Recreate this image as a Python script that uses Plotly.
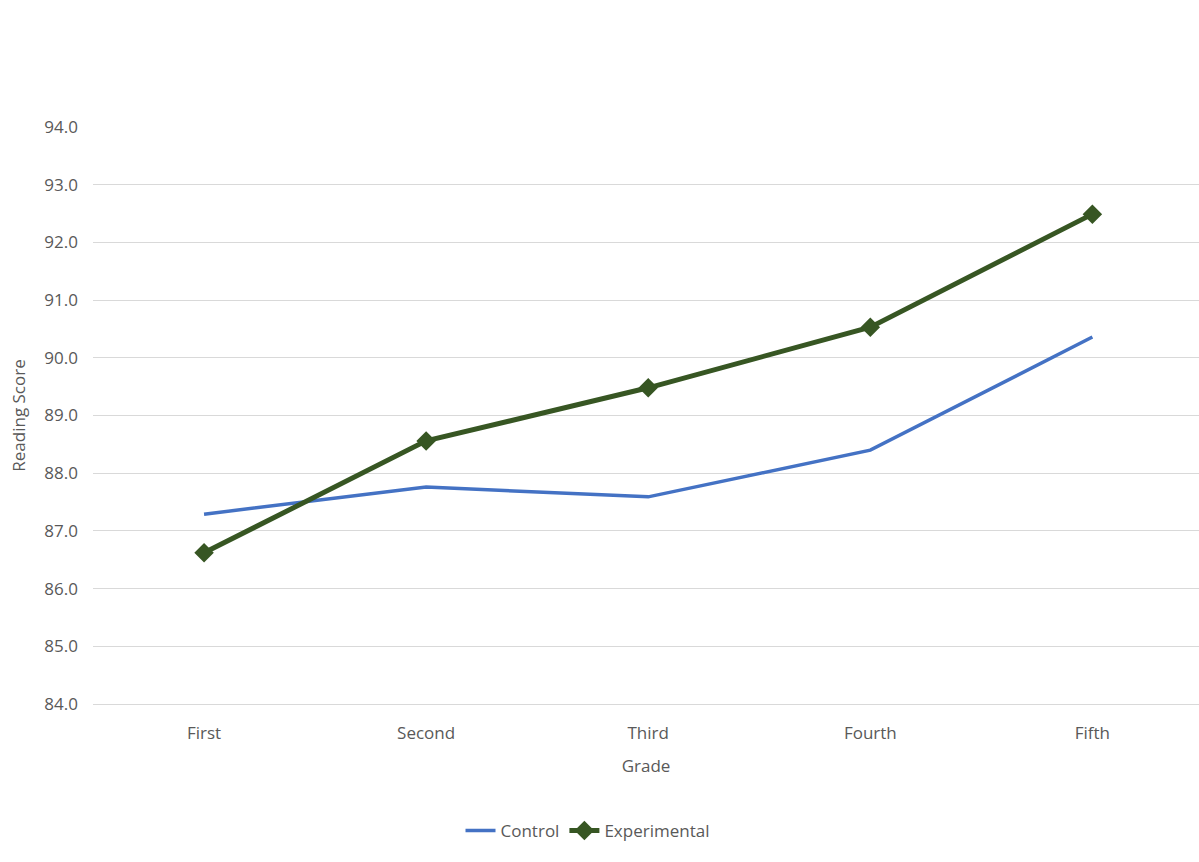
import plotly.graph_objects as go

grades = ["First", "Second", "Third", "Fourth", "Fifth"]
control = [87.29, 87.76, 87.59, 88.40, 90.36]
experimental = [86.62, 88.56, 89.48, 90.53, 92.49]
y_ticks = [84, 85, 86, 87, 88, 89, 90, 91, 92, 93, 94]

font_family = "Open Sans, Noto Sans, sans-serif"
gray = "#595959"

fig = go.Figure()
fig.add_trace(go.Scatter(
    x=grades, y=control, name="Control", mode="lines",
    line=dict(color="#4472C4", width=3.5),
))
fig.add_trace(go.Scatter(
    x=grades, y=experimental, name="Experimental", mode="lines+markers",
    line=dict(color="#375623", width=5),
    marker=dict(symbol="diamond", size=15, color="#375623"),
))

fig.update_layout(
    width=1199, height=862,
    margin=dict(l=93, r=0, t=127, b=158),
    paper_bgcolor="white", plot_bgcolor="white",
    font=dict(family=font_family, size=17, color=gray),
    showlegend=True,
    legend=dict(orientation="h", xref="container", x=0.49, xanchor="center",
                yref="container", y=0.036, yanchor="middle",
                font=dict(size=17, color=gray), traceorder="normal",
                itemwidth=30, tracegroupgap=0),
)
fig.update_xaxes(
    range=[-0.5, 4.48], showgrid=False, showline=True, linecolor="#D9D9D9", linewidth=1,
    ticks="", tickfont=dict(size=17, color=gray), ticklabelstandoff=14,
    title=dict(text="Grade", font=dict(size=17, color=gray), standoff=16),
)
fig.update_yaxes(
    range=[84, 94], tickvals=y_ticks, ticktext=[f"{v:.1f}" for v in y_ticks],
    showgrid=True, gridcolor="#D9D9D9", gridwidth=1, zeroline=False, showline=False,
    tickfont=dict(size=17, color=gray), ticks="", ticklabelstandoff=14,
    title=dict(text="Reading Score", font=dict(size=17, color=gray), standoff=14),
)

fig.write_html("out.html")
